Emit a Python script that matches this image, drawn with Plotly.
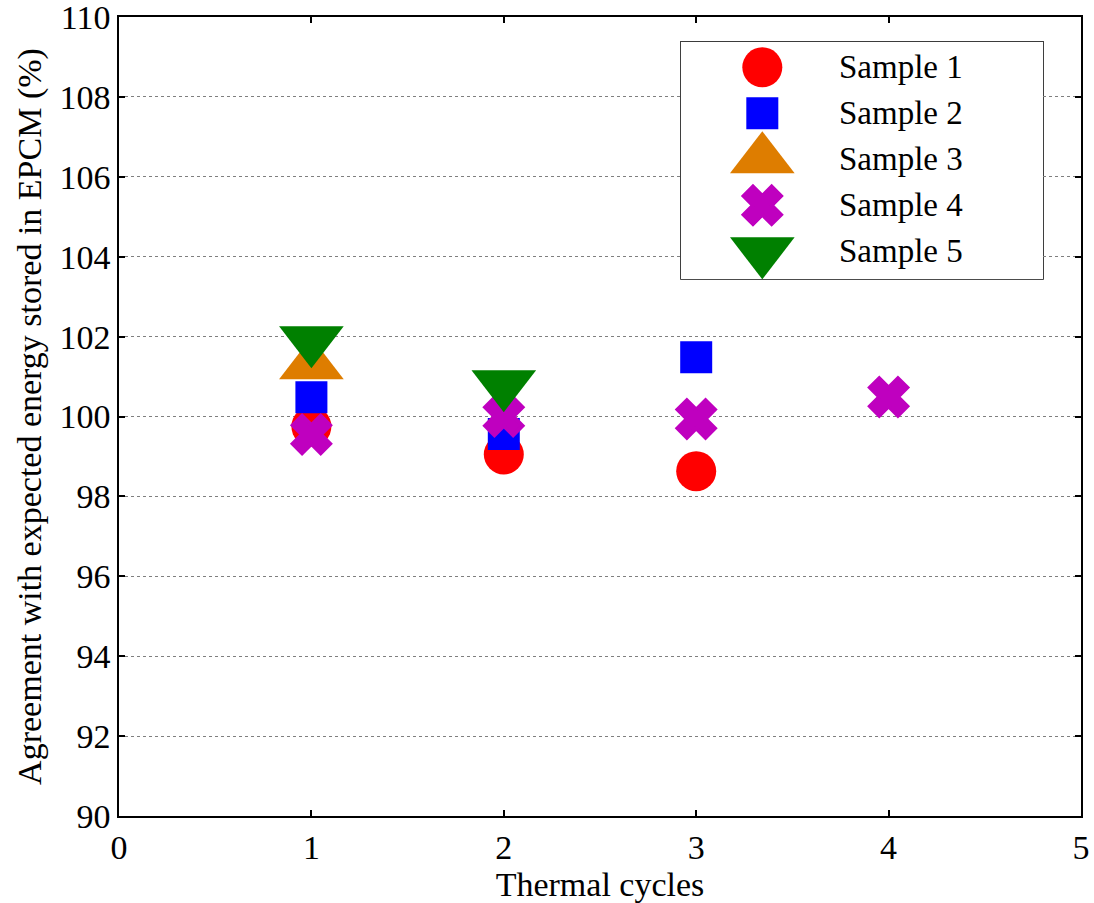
import plotly.graph_objects as go

# Thermal cycle number for each measurement, per sample
s1_cycles = [1, 2, 3]
s1_values = [99.75, 99.05, 98.63]
s2_cycles = [1, 2, 3]
s2_values = [100.48, 99.56, 101.48]
s3_cycles = [1]
s3_values = [101.28]
s4_cycles = [1, 2, 3, 4]
s4_values = [99.55, 100.0, 99.94, 100.49]
s5_cycles = [1, 2]
s5_values = [101.91, 100.81]

names = ["Sample 1", "Sample 2", "Sample 3", "Sample 4", "Sample 5"]
colors = ["#FF0000", "#0000FF", "#DE7D00", "#BF00BF", "#008000"]
symbols = ["circle", "square", "triangle-up", "x", "triangle-down"]
sizes = [40, 32, 56, 33, 56]
outline = [0, 0, 0, 4, 0]

x_ticks = [0, 1, 2, 3, 4, 5]
y_ticks = list(range(90, 111, 2))

series = [
    (s1_cycles, s1_values),
    (s2_cycles, s2_values),
    (s3_cycles, s3_values),
    (s4_cycles, s4_values),
    (s5_cycles, s5_values),
]

FONT = "Times New Roman, Liberation Serif, serif"


def marker_style(sym, sz, col, lw):
    return dict(symbol=sym, size=sz, color=col, line=dict(width=lw, color=col))


fig = go.Figure()
for (xs, ys), name, col, sym, sz, lw in zip(series, names, colors, symbols, sizes, outline):
    fig.add_trace(go.Scatter(
        x=xs, y=ys, mode="markers", name=name, showlegend=False,
        marker=marker_style(sym, sz, col, lw),
    ))

# Legend drawn on its own small axes so the symbols keep full size
leg_x0, leg_x1 = 0.5842, 0.9605
leg_y0, leg_y1 = 0.672, 0.969
for i, (name, col, sym, sz, lw) in enumerate(zip(names, colors, symbols, sizes, outline)):
    fig.add_trace(go.Scatter(
        x=[0.2246], y=[i], mode="markers", showlegend=False, hoverinfo="skip",
        marker=marker_style(sym, sz, col, lw),
        xaxis="x2", yaxis="y2",
    ))
    fig.add_annotation(
        x=0.43, y=i, xref="x2", yref="y2", text=name, showarrow=False,
        xanchor="left", yanchor="middle",
        font=dict(family=FONT, size=33, color="black"),
    )

fig.add_shape(type="rect", xref="paper", yref="paper",
              x0=leg_x0, x1=leg_x1, y0=leg_y0, y1=leg_y1,
              line=dict(color="black", width=1.5), fillcolor="white", layer="below")

axis_common = dict(
    showline=True, linecolor="black", linewidth=1.5, mirror="ticks",
    ticks="inside", ticklen=6, tickcolor="black", tickwidth=1.5,
    zeroline=False, automargin=False, ticklabeloverflow="allow",
    tickfont=dict(family=FONT, size=34, color="black"),
)

fig.update_layout(
    width=1094, height=903,
    margin=dict(l=119, r=13, t=17, b=87),
    paper_bgcolor="white", plot_bgcolor="white",
    xaxis=dict(
        range=[0, 5], tickvals=x_ticks, showgrid=False,
        title=dict(text="Thermal cycles", font=dict(family=FONT, size=34, color="black"), standoff=6),
        **axis_common,
    ),
    yaxis=dict(
        range=[90, 110], tickvals=y_ticks, showgrid=True,
        gridcolor="#7f7f7f", griddash="dot", gridwidth=1,
        title=dict(text="Agreement with expected energy stored in EPCM (%)",
                   font=dict(family=FONT, size=34, color="black"), standoff=8),
        **axis_common,
    ),
    xaxis2=dict(domain=[leg_x0, leg_x1], range=[0, 1], visible=False, fixedrange=True),
    yaxis2=dict(domain=[leg_y0, leg_y1], range=[4.603, -0.556], visible=False,
                fixedrange=True, anchor="x2"),
    showlegend=False,
)

fig.write_html("out.html")
